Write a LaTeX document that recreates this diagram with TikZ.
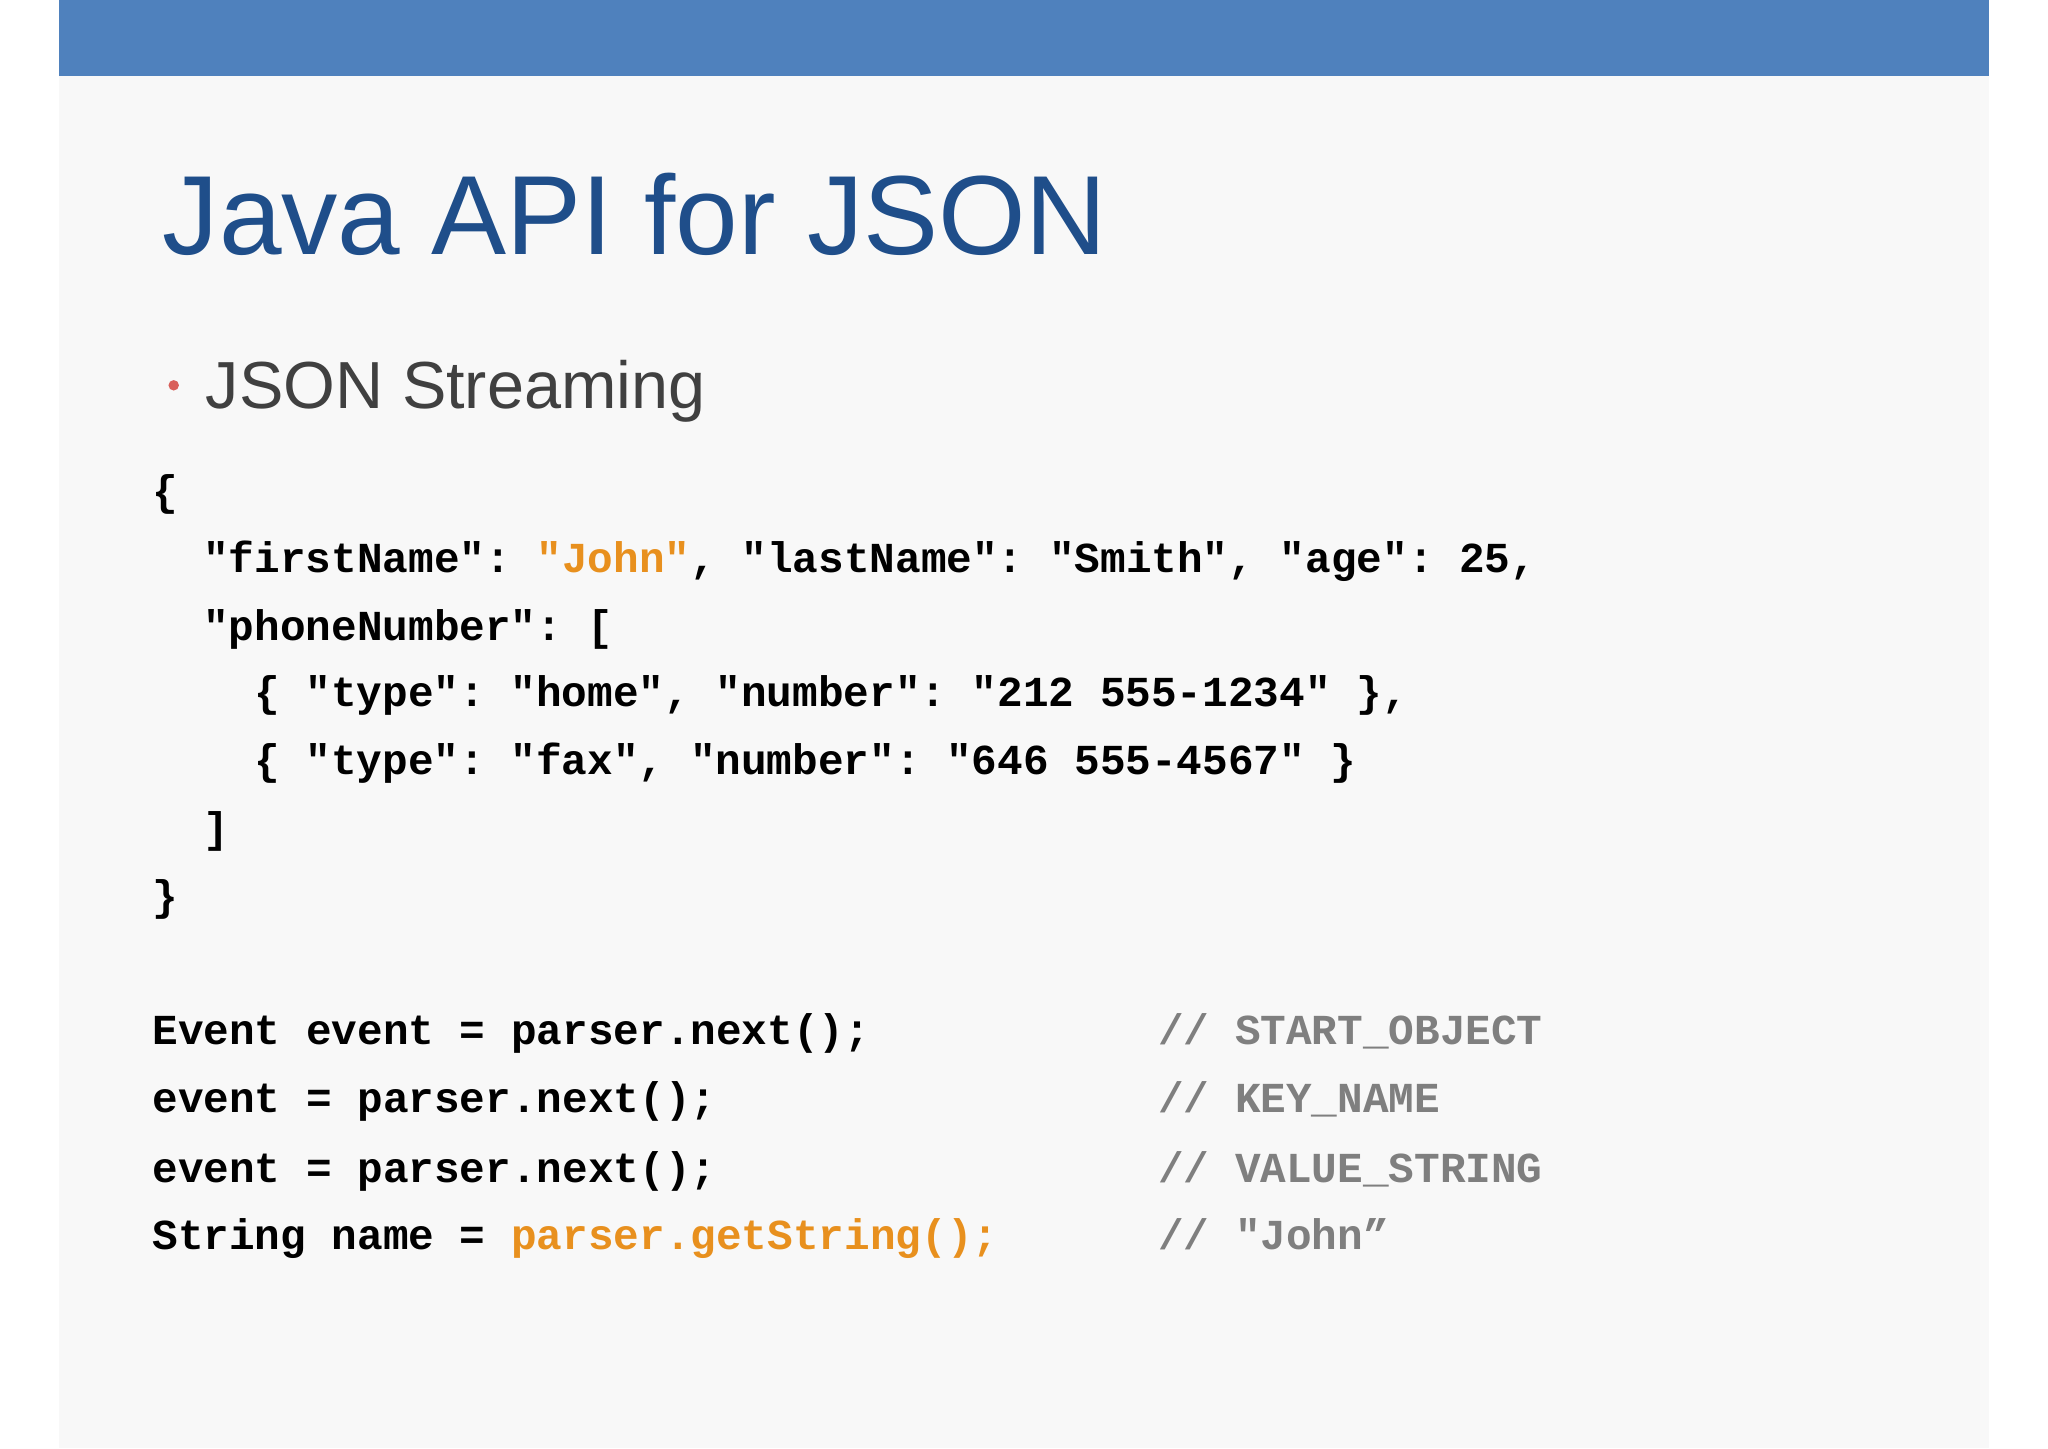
\documentclass[tikz,border=0pt]{standalone}
\usepackage{fontspec}
\setmainfont{Liberation Sans}
\setmonofont{Liberation Mono}
\definecolor{barblue}{HTML}{4F81BD}
\definecolor{titleblue}{HTML}{1F4E8A}
\definecolor{slidebg}{HTML}{F8F8F8}
\definecolor{bulletred}{HTML}{D9605A}
\definecolor{subgray}{HTML}{404040}
\definecolor{codeorange}{HTML}{E8901E}
\definecolor{commentgray}{HTML}{7F7F7F}
\tikzset{
  code/.style={anchor=base west, inner sep=0pt, font=\ttfamily\bfseries\fontsize{9.3}{11}\selectfont},
  cmt/.style={code, text=commentgray},
}
\newcommand{\org}[1]{\textcolor{codeorange}{#1}}
\begin{document}
\begin{tikzpicture}[x=0.01cm, y=-0.01cm]

% ---- Slide ----
\useasboundingbox (0,0) rectangle (1568,1109);
\fill[white] (0,0) rectangle (1568,1109);
\fill[slidebg] (45,0) rectangle (1523,1109);
\fill[barblue] (45,0) rectangle (1523,58);

% ---- Title and bullet ----
\node[anchor=base west, inner sep=0pt, text=titleblue,
      font=\fontsize{24.5}{28}\selectfont] (title) at (124,195) {Java API for JSON};
\fill[bulletred] (133,295) circle (4);
\node[anchor=base west, inner sep=0pt, text=subgray,
      font=\fontsize{14.5}{17}\selectfont] (bullet) at (157,313) {JSON Streaming};

% ---- JSON ----
\node[code] (j1) at (116,387) {\{};
\node[code] (j2) at (155,438) {"firstName": \org{"John"}, "lastName": "Smith", "age": 25,};
\node[code] (j3) at (155,490) {"phoneNumber": [};
\node[code] (j4) at (194,541) {\{ "type": "home", "number": "212 555-1234" \},};
\node[code] (j5) at (194,593) {\{ "type": "fax", "number": "646 555-4567" \}};
\node[code] (j6) at (155,645) {]};
\node[code] (j7) at (116,697) {\}};

% ---- Parser calls ----
\node[code] (p1) at (116,800) {Event event = parser.next();};
\node[code] (p2) at (116,852) {event = parser.next();};
\node[code] (p3) at (116,905) {event = parser.next();};
\node[code] (p4) at (116,957) {String name = \org{parser.getString();}};

% ---- Comments ----
\node[cmt] (c1) at (886,800) {// START\_OBJECT};
\node[cmt] (c2) at (886,852) {// KEY\_NAME};
\node[cmt] (c3) at (886,905) {// VALUE\_STRING};
\node[cmt] (c4) at (886,957) {// "John”};

\end{tikzpicture}
\end{document}
